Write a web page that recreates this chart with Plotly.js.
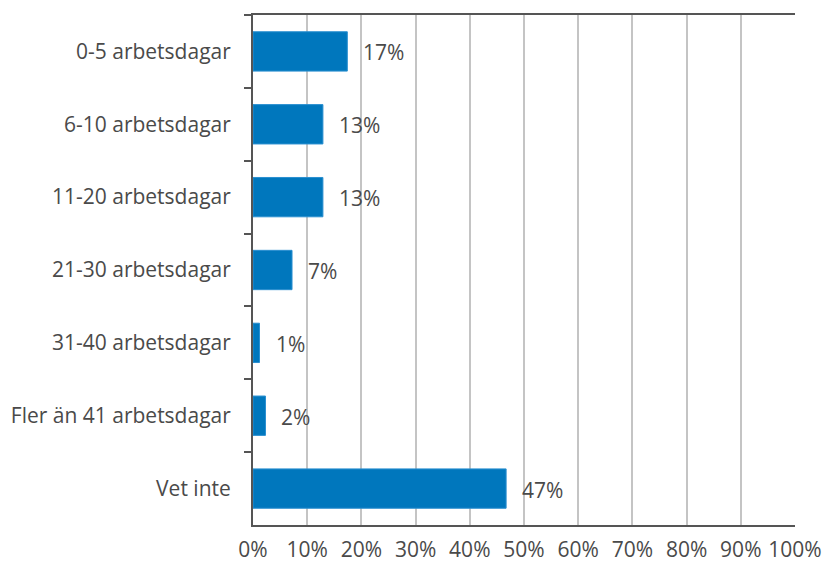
<!DOCTYPE html>
<html>
<head>
<meta charset="utf-8">
<script src="https://cdn.plot.ly/plotly-3.0.1.min.js"></script>
<style>html,body{margin:0;padding:0;background:#fff;}#chart{width:825px;height:566px;}</style>
</head>
<body>
<div id="chart"></div>
<script>
const categories = ["0-5 arbetsdagar", "6-10 arbetsdagar", "11-20 arbetsdagar", "21-30 arbetsdagar", "31-40 arbetsdagar", "Fler än 41 arbetsdagar", "Vet inte"];
const values = [17.4, 12.9, 12.9, 7.2, 1.2, 2.3, 46.7];
const valueLabels = ["17%", "13%", "13%", "7%", "1%", "2%", "47%"];
const xTickValues = [0, 10, 20, 30, 40, 50, 60, 70, 80, 90, 100];
const xTickLabels = ["0%", "10%", "20%", "30%", "40%", "50%", "60%", "70%", "80%", "90%", "100%"];

const fontFamily = "'Open Sans', 'Noto Sans', sans-serif";
const textColor = "#4a4a4a";
const labelFont = {family: fontFamily, size: 21, color: textColor, weight: 400};

const annotations = categories.map((c, i) => ({
  x: values[i], y: c, xref: "x", yref: "y",
  text: valueLabels[i], showarrow: false,
  xanchor: "left", yanchor: "middle", xshift: 14, yshift: -1,
  font: labelFont
}));

Plotly.newPlot("chart", [{
  type: "bar",
  orientation: "h",
  y: categories,
  x: values,
  marker: {color: "#0077bd", line: {color: "#2a8fd0", width: 1}},
  hoverinfo: "none"
}], {
  width: 825,
  height: 566,
  margin: {l: 253, r: 30, t: 15, b: 41},
  paper_bgcolor: "#fff",
  plot_bgcolor: "#fff",
  bargap: 0.46,
  showlegend: false,
  font: labelFont,
  annotations: annotations,
  xaxis: {
    range: [0, 100],
    tickmode: "array",
    tickvals: xTickValues,
    ticktext: xTickLabels,
    showgrid: true,
    gridcolor: "#c4c4c4",
    gridwidth: 2,
    zeroline: false,
    showline: true,
    linecolor: "#555555",
    linewidth: 2,
    mirror: true,
    ticks: "",
    ticklabelstandoff: 5,
    tickfont: labelFont,
    fixedrange: true
  },
  yaxis: {
    autorange: "reversed",
    type: "category",
    showgrid: false,
    zeroline: false,
    showline: true,
    linecolor: "#555555",
    linewidth: 2,
    ticks: "outside",
    tickson: "boundaries",
    ticklen: 7,
    tickwidth: 2,
    tickcolor: "#555555",
    ticklabelstandoff: 16,
    tickfont: labelFont,
    fixedrange: true
  }
}, {staticPlot: true});
</script>
</body>
</html>
